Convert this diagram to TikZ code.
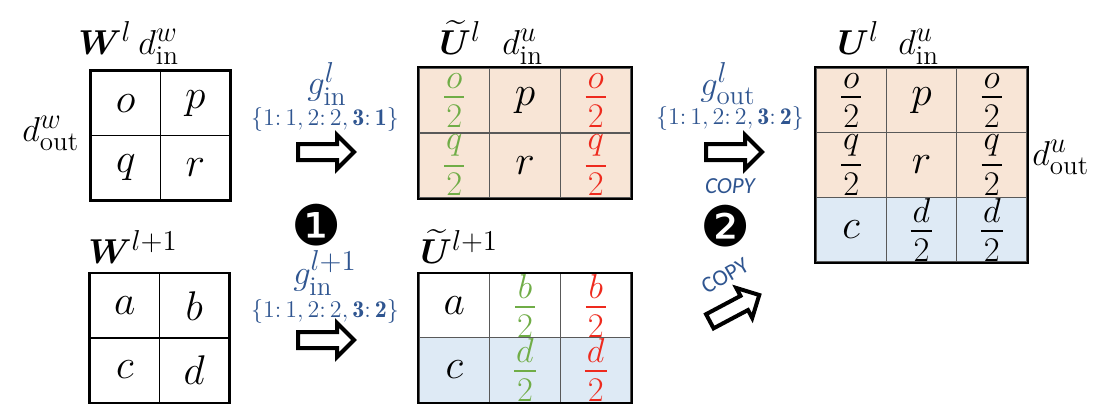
\documentclass[tikz,border=0pt]{standalone}
\usepackage{amsmath,bm}
\usepackage{fontspec}
\usetikzlibrary{shapes.arrows}
\newfontfamily\copyfont{Carlito}
\newfontfamily\dingfont{DejaVu Sans}
\definecolor{peach}{HTML}{F8E5D6}
\definecolor{lblue}{HTML}{DEEAF5}
\definecolor{mgreen}{HTML}{70AD47}
\definecolor{mred}{HTML}{EE2A1E}
\definecolor{tblue}{HTML}{2F5590}
\DeclareMathSizes{17}{17}{13.5}{10}
\DeclareMathSizes{21}{21}{15}{11}
\newcommand{\fr}[2]{\ensuremath{\vcenter{\offinterlineskip\fontsize{17.5}{17.5}\selectfont
  \halign{\kern1pt\hfil$##$\hfil\kern1pt\cr #1\cr\noalign{\kern4pt\hrule height 1pt\kern3.5pt}#2\cr}}}}
\tikzset{
  cellw/.style={draw=black, line width=0.6pt, minimum width=34.75pt, minimum height=32.25pt, inner sep=0pt, font=\fontsize{21}{24}\selectfont},
  cellu/.style={draw=black!65, line width=0.7pt, minimum width=35.33pt, minimum height=32.5pt, inner sep=0pt, font=\fontsize{21}{24}\selectfont},
  cellU/.style={draw=black!65, line width=0.7pt, minimum width=35.15pt, minimum height=32.35pt, inner sep=0pt, font=\fontsize{21}{24}\selectfont},
  outer/.style={draw=black, line width=1.1pt},
  lab/.style={font=\fontsize{17}{20}\selectfont, inner sep=0pt},
  glab/.style={font=\fontsize{17}{20}\selectfont, text=tblue, inner sep=0pt},
  setlab/.style={font=\fontsize{12}{14}\selectfont, text=tblue, inner sep=0pt},
  copylab/.style={font=\copyfont\fontsize{11.5}{13}\selectfont, text=tblue, inner sep=0pt},
  stepnum/.style={font=\dingfont\fontsize{28}{30}\selectfont, inner sep=0pt},
  blockarrow/.style={single arrow, draw=black, line width=2pt, fill=white, minimum height=28pt, single arrow head extend=4.5pt, inner sep=3pt},
}
\begin{document}
\begin{tikzpicture}[x=0.5pt,y=-0.5pt]
\useasboundingbox (0,0) rectangle (1102,414);

% ---- W^l ----
\node[cellw] (w11) at (125.75,103.25) {$o$};
\node[cellw] (w12) at (195.25,103.25) {$p$};
\node[cellw] (w21) at (125.75,167.75) {$q$};
\node[cellw] (w22) at (195.25,167.75) {$r$};
\draw[outer] (w11.north west) rectangle (w22.south east);
\node[lab, anchor=base west] (lwl) at (78,54) {$\bm{W}^{l}$};
\node[lab, anchor=base west] (lwdin) at (138,54) {$d_{\mathrm{in}}^{w}$};
\node[lab, anchor=base west] (lwdout) at (22,141) {$d_{\mathrm{out}}^{w}$};

% ---- W^{l+1} ----
\node[cellw] (v11) at (124.75,306) {$a$};
\node[cellw] (v12) at (194.25,306) {$b$};
\node[cellw] (v21) at (124.75,370) {$c$};
\node[cellw] (v22) at (194.25,370) {$d$};
\draw[outer] (v11.north west) rectangle (v22.south east);
\node[lab, anchor=base west] (lwl1) at (88,263) {$\bm{W}^{l+1}$};

% ---- U tilde ^l ----
\node[cellu, fill=peach] (t11) at (454.3,100.5) {\textcolor{mgreen}{\fr{o}{2}}};
\node[cellu, fill=peach] (t12) at (525,100.5) {$p$};
\node[cellu, fill=peach] (t13) at (595.7,100.5) {\textcolor{mred}{\fr{o}{2}}};
\node[cellu, fill=peach] (t21) at (454.3,165.5) {\textcolor{mgreen}{\fr{q}{2}}};
\node[cellu, fill=peach] (t22) at (525,165.5) {$r$};
\node[cellu, fill=peach] (t23) at (595.7,165.5) {\textcolor{mred}{\fr{q}{2}}};
\draw[outer] (t11.north west) rectangle (t23.south east);
\node[lab, anchor=base west] (ltl) at (439,54) {$\widetilde{\bm{U}}^{l}$};
\node[lab, anchor=base west] (ltdin) at (502,54) {$d_{\mathrm{in}}^{u}$};

% ---- U tilde ^{l+1} ----
\node[cellu] (s11) at (454.3,306) {$a$};
\node[cellu] (s12) at (525,306) {};
\node[cellu] (s13) at (595.7,306) {};
\node[cellu, fill=lblue] (s21) at (454.3,370) {$c$};
\node[cellu, fill=lblue] (s22) at (525,370) {};
\node[cellu, fill=lblue] (s23) at (595.7,370) {};
\draw[outer] (s11.north west) rectangle (s23.south east);
\node[inner sep=0pt] (s12t) at (s12.center) {\textcolor{mgreen}{\fr{b}{2}}};
\node[inner sep=0pt] (s13t) at (s13.center) {\textcolor{mred}{\fr{b}{2}}};
\node[inner sep=0pt] (s22t) at (s22.center) {\textcolor{mgreen}{\fr{d}{2}}};
\node[inner sep=0pt] (s23t) at (s23.center) {\textcolor{mred}{\fr{d}{2}}};
\node[lab, anchor=base west] (ltl1) at (420,263) {$\widetilde{\bm{U}}^{l+1}$};

% ---- U^l ----
\node[cellU, fill=peach] (u11) at (851.2,100.3) {\fr{o}{2}};
\node[cellU, fill=peach] (u12) at (921.5,100.3) {$p$};
\node[cellU, fill=peach] (u13) at (991.8,100.3) {\fr{o}{2}};
\node[cellU, fill=peach] (u21) at (851.2,165) {\fr{q}{2}};
\node[cellU, fill=peach] (u22) at (921.5,165) {$r$};
\node[cellU, fill=peach] (u23) at (991.8,165) {\fr{q}{2}};
\node[cellU, fill=lblue] (u31) at (851.2,229.7) {$c$};
\node[cellU, fill=lblue] (u32) at (921.5,229.7) {\fr{d}{2}};
\node[cellU, fill=lblue] (u33) at (991.8,229.7) {\fr{d}{2}};
\draw[outer] (u11.north west) rectangle (u33.south east);
\node[lab, anchor=base west] (lul) at (837,54) {$\bm{U}^{l}$};
\node[lab, anchor=base west] (ludin) at (898,54) {$d_{\mathrm{in}}^{u}$};
\node[lab, anchor=base west] (ludout) at (1032,165) {$d_{\mathrm{out}}^{u}$};

% ---- arrows and labels ----
\node[blockarrow] (a1) at (322,152) {};
\node[blockarrow] (a2) at (322,340) {};
\node[blockarrow] (a3) at (730,152) {};
\node[blockarrow, rotate=28] (a4) at (731,310) {};

\node[glab] (g1) at (327,84) {$g_{\mathrm{in}}^{l}$};
\node[setlab] (set1) at (325,119) {$\{1{:}\,1, 2{:}\,2, \mathbf{3}{:}\,\mathbf{1}\}$};
\node[glab] (g2) at (325,273) {$g_{\mathrm{in}}^{l+1}$};
\node[setlab] (set2) at (325,311) {$\{1{:}\,1, 2{:}\,2, \mathbf{3}{:}\,\mathbf{2}\}$};
\node[glab] (g3) at (728,84) {$g_{\mathrm{out}}^{l}$};
\node[setlab] (set3) at (730,118) {$\{1{:}\,1, 2{:}\,2, \mathbf{3}{:}\,\mathbf{2}\}$};
\node[copylab, font=\copyfont\itshape\fontsize{11.5}{13}\selectfont] (c1) at (730,186) {COPY};
\node[copylab, rotate=30] (c2) at (725,276) {COPY};

\node[stepnum] (n1) at (317,225) {❶};
\node[stepnum] (n2) at (726,226) {❷};
\end{tikzpicture}
\end{document}
